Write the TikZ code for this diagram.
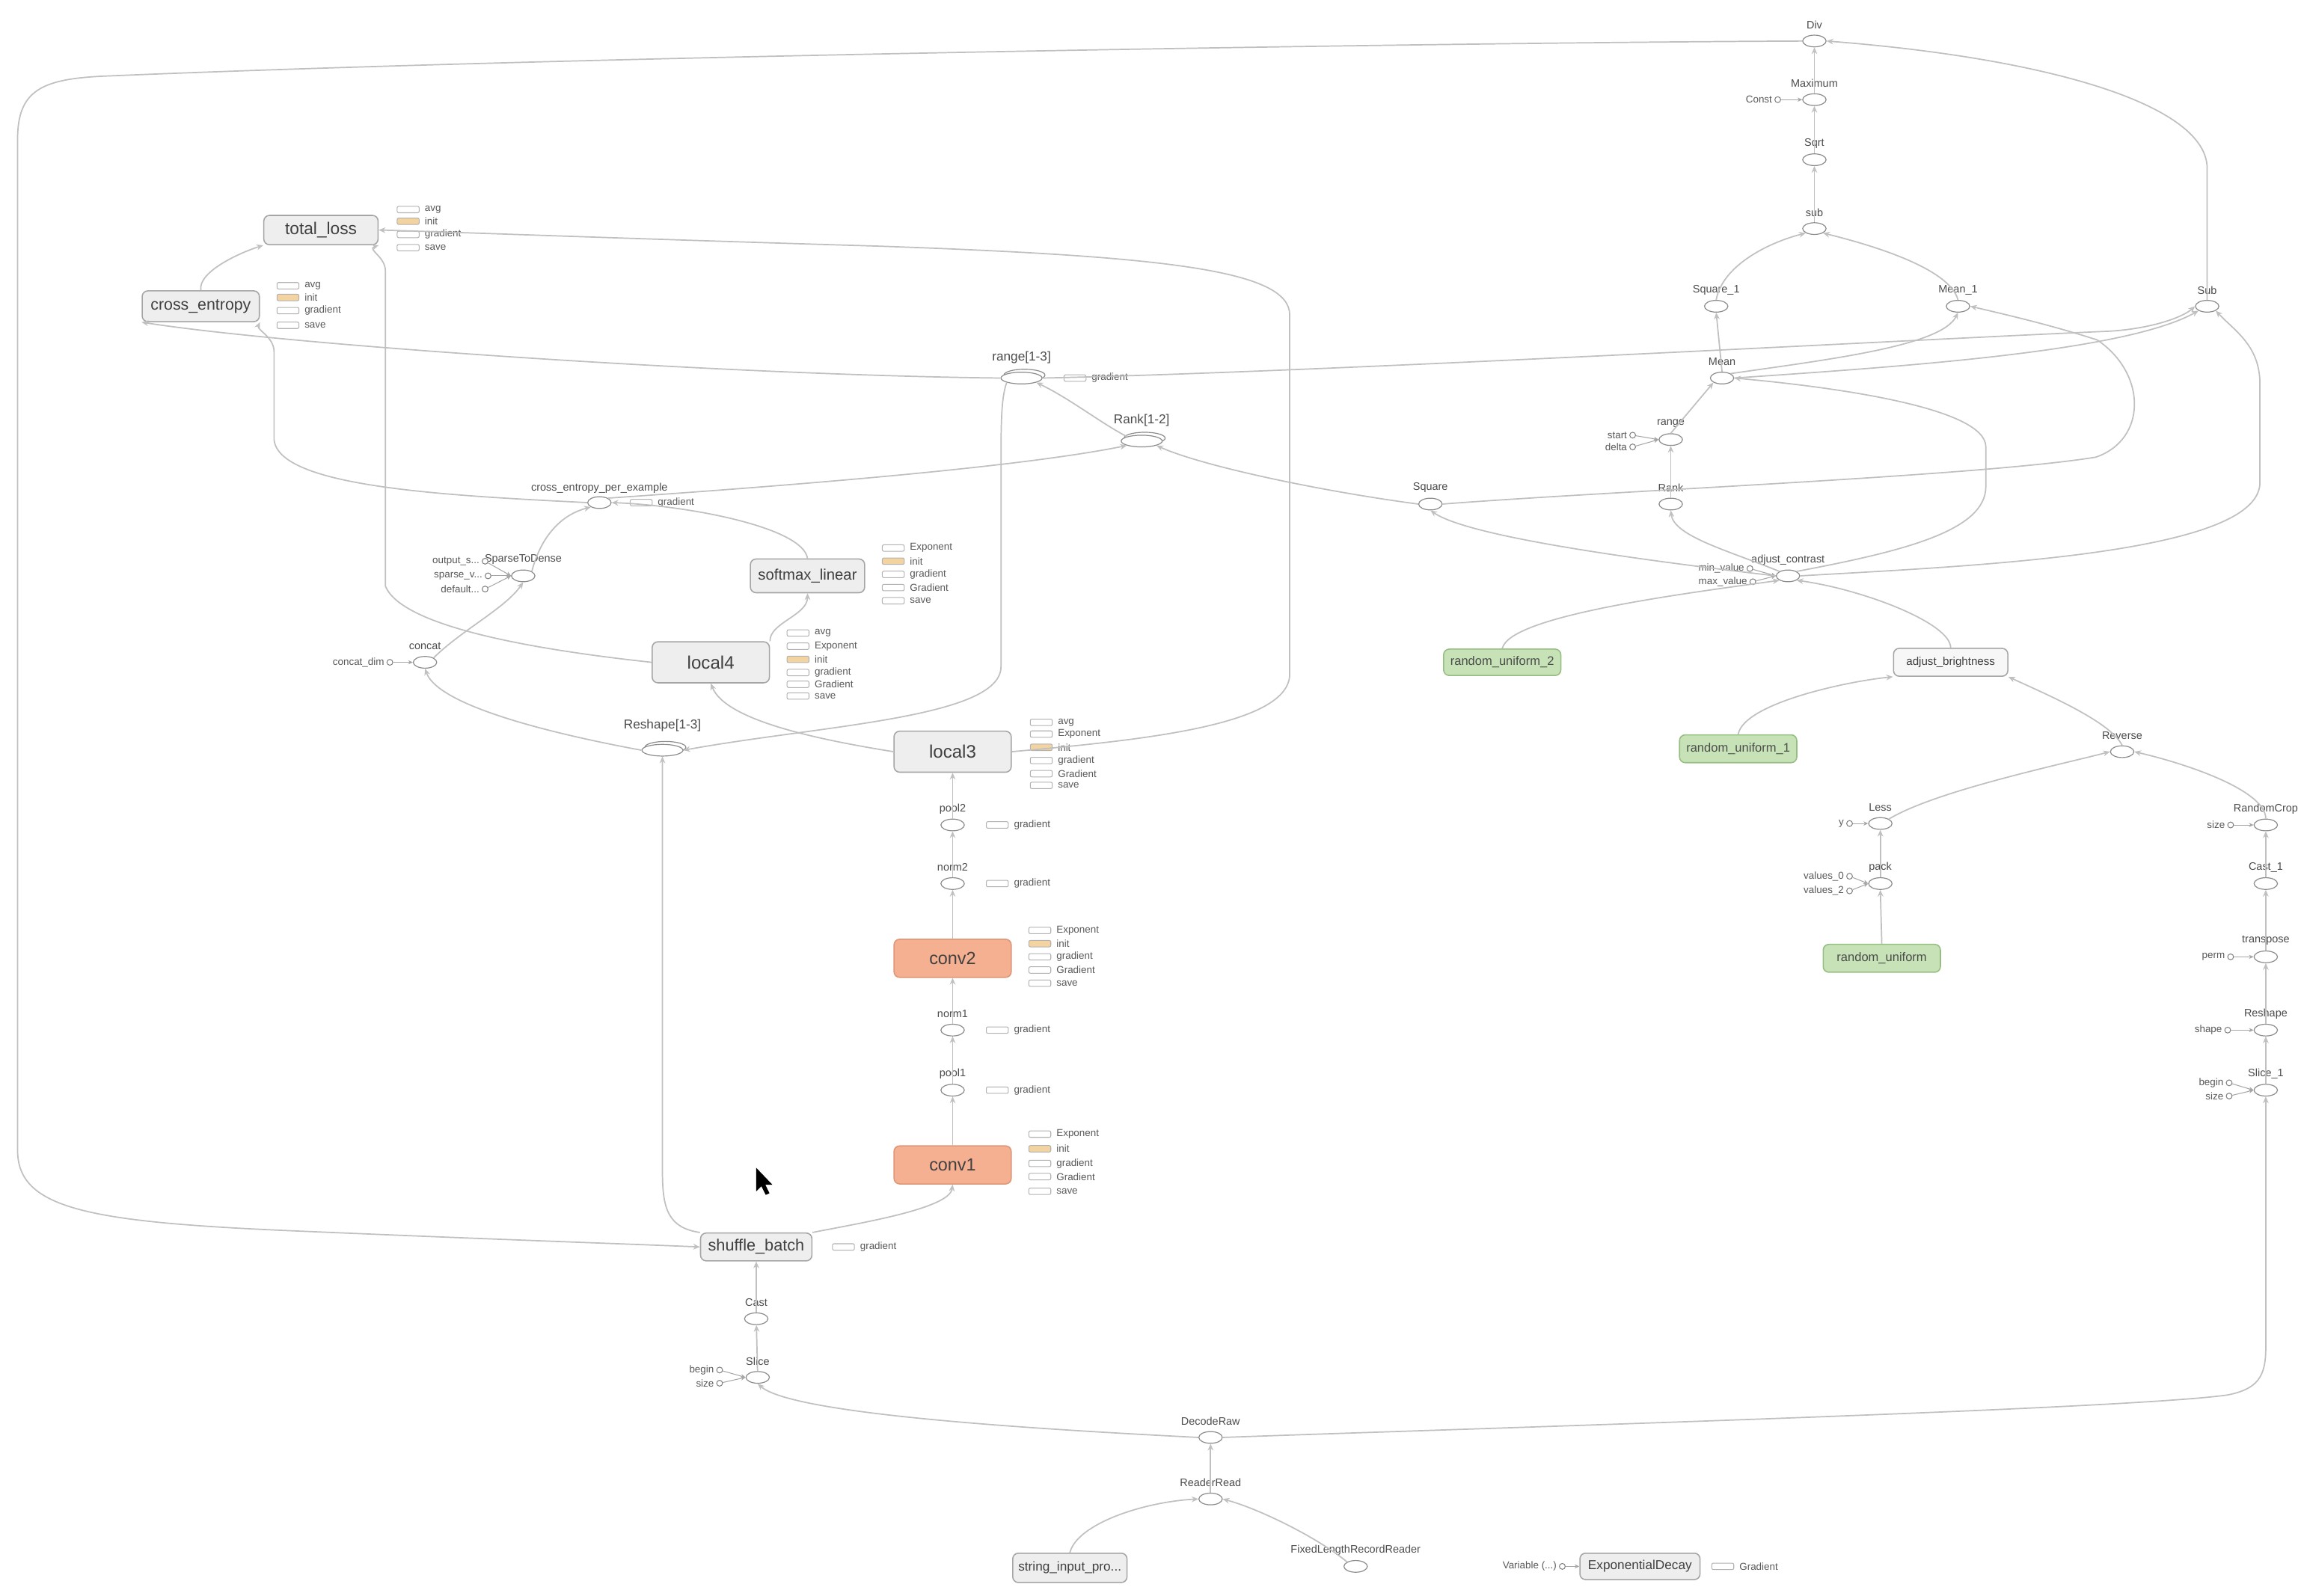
\documentclass[tikz,border=0pt]{standalone}
\usepackage{fontspec}
\setmainfont{Liberation Sans}
\usetikzlibrary{arrows.meta,shapes.geometric}
\definecolor{boxfill}{RGB}{238,238,238}
\definecolor{boxdraw}{RGB}{165,165,165}
\definecolor{convfill}{RGB}{244,176,145}
\definecolor{convdraw}{RGB}{222,150,120}
\definecolor{grfill}{RGB}{198,226,182}
\definecolor{grdraw}{RGB}{150,190,130}
\definecolor{initfill}{RGB}{243,212,160}
\definecolor{edgec}{RGB}{192,192,192}
\newcommand\FSmall{\fontsize{4.2}{4.6}\selectfont}
\newcommand\FAux{\fontsize{3.9}{4.3}\selectfont}
\newcommand\FS[1]{\fontsize{#1}{#1}\selectfont}
% op node with label above: name, x, y, text
\newcommand\opn[4]{\node[op] (#1) at (#2,#3) {};\node[lbl] (#1-l) at (#2,#3-11) {#4};}
% stacked op: name, x, y, text, label offset
\newcommand\stk[5]{\node[op,minimum width=0.56cm] (#1-b) at (#2+2,#3-2) {};\node[op,minimum width=0.56cm] (#1) at (#2,#3) {};\node[lblm] (#1-l) at (#2,#3-#5) {#4};}
% aux item: name, icon x, y, fill, text
\newcommand\aux[5]{\draw[draw=black!30,fill=#4,rounded corners=0.6pt,line width=0.3pt] (#2,#3-2.2) rectangle (#2+15,#3+2.2);\node[auxl] (#1) at (#2+18,#3) {#5};}
% constant input: name, x, y, text, target
\newcommand\cinp[5]{\node[cin] (#1) at (#2,#3) {};\node[auxl,anchor=east] (#1-t) at (#2-3,#3) {#4};\draw[ce] (#1) -- (#5);}
\begin{document}
\begin{tikzpicture}[x=0.02cm,y=-0.02cm,
  box/.style={draw=boxdraw, fill=boxfill, rounded corners=2.2pt, line width=0.45pt, inner sep=0pt, text=black!75},
  cbox/.style={box, draw=convdraw, fill=convfill},
  gbox/.style={box, draw=grdraw, fill=grfill, text=black!70},
  op/.style={ellipse, draw=black!45, fill=white, minimum width=0.32cm, minimum height=0.16cm, inner sep=0pt, line width=0.35pt},
  lbl/.style={font=\FSmall, text=black!70, inner sep=0.3pt},
  lblm/.style={font=\FS{5}, text=black!70, inner sep=0.3pt},
  auxl/.style={font=\FAux, text=black!65, inner sep=0.3pt, anchor=west},
  e/.style={draw=edgec, line width=0.5pt, -{Stealth[length=2.6pt,width=2.2pt]}},
  ce/.style={draw=black!35, line width=0.3pt, -{Stealth[length=1.8pt,width=1.6pt]}},
  cin/.style={circle, draw=black!50, fill=white, minimum size=0.08cm, inner sep=0pt, line width=0.3pt}]
\useasboundingbox (0,0) rectangle (1568,1089);
\fill[white] (0,0) rectangle (1568,1089);

% ---------------- main boxes ----------------
\node[box, minimum width=1.56cm, minimum height=0.40cm, font=\FS{6.6}] (totalloss) at (219,157) {total\_loss};
\node[box, minimum width=1.60cm, minimum height=0.42cm, font=\FS{6.2}] (crossent) at (137,209) {cross\_entropy};
\node[box, minimum width=1.56cm, minimum height=0.46cm, font=\FS{5.9}] (softmax) at (551,393) {softmax\_linear};
\node[box, minimum width=1.60cm, minimum height=0.56cm, font=\FS{7}] (local4) at (485,452) {local4};
\node[box, minimum width=1.60cm, minimum height=0.56cm, font=\FS{7}] (local3) at (650,513) {local3};
\node[cbox, minimum width=1.60cm, minimum height=0.52cm, font=\FS{6.8}] (conv2) at (650,654) {conv2};
\node[cbox, minimum width=1.60cm, minimum height=0.52cm, font=\FS{6.8}] (conv1) at (650,795) {conv1};
\node[box, minimum width=1.52cm, minimum height=0.38cm, font=\FS{6.3}] (shuffle) at (516,851) {shuffle\_batch};
\node[box, minimum width=1.56cm, minimum height=0.40cm, font=\FS{5}] (stringin) at (730,1070) {string\_input\_pro...};
\node[box, minimum width=1.64cm, minimum height=0.36cm, font=\FS{5}] (expdecay) at (1119,1069) {ExponentialDecay};
\node[box, fill=white!97!black, minimum width=1.56cm, minimum height=0.38cm, font=\FS{4.4}] (adjbright) at (1331,452) {adjust\_brightness};
\node[gbox, minimum width=1.60cm, minimum height=0.36cm, font=\FS{4.8}] (ru2) at (1025,452) {random\_uniform\_2};
\node[gbox, minimum width=1.60cm, minimum height=0.38cm, font=\FS{4.8}] (ru1) at (1186,511) {random\_uniform\_1};
\node[gbox, minimum width=1.60cm, minimum height=0.38cm, font=\FS{4.8}] (ru) at (1284,654) {random\_uniform};

% ---------------- op nodes ----------------
\opn{div}{1238}{28}{Div}
\opn{maximum}{1238}{68}{Maximum}
\opn{sqrt}{1238}{109}{Sqrt}
\opn{subl}{1238}{156}{sub}
\opn{square1}{1171}{209}{Square\_1}
\opn{mean1}{1336}{209}{Mean\_1}
\opn{subu}{1506}{209}{Sub}
\opn{mean}{1175}{258}{Mean}
\opn{range}{1140}{300}{range}
\opn{square}{976}{344}{Square}
\opn{rank}{1140}{344}{Rank}
\opn{adjcon}{1220}{393}{adjust\_contrast}
\opn{reverse}{1448}{513}{Reverse}
\opn{less}{1283}{562}{Less}
\opn{pack}{1283}{603}{pack}
\opn{randcrop}{1546}{563}{RandomCrop}
\opn{cast1}{1546}{603}{Cast\_1}
\opn{transpose}{1546}{653}{transpose}
\opn{reshape}{1546}{703}{Reshape}
\opn{slice1}{1546}{744}{Slice\_1}
\opn{std}{357}{393}{SparseToDense}
\opn{concat}{290}{452}{concat}
\opn{pool2}{650}{563}{pool2}
\opn{norm2}{650}{603}{norm2}
\opn{norm1}{650}{703}{norm1}
\opn{pool1}{650}{744}{pool1}
\opn{cast}{516}{900}{Cast}
\opn{slice}{517}{940}{Slice}
\opn{decoderaw}{826}{981}{DecodeRaw}
\opn{readerread}{826}{1023}{ReaderRead}
\opn{flrr}{925}{1069}{FixedLengthRecordReader}
\node[op] (xent) at (409,343) {};
\node[lbl, font=\FS{4.2}] (xent-l) at (409,333) {cross\_entropy\_per\_example};
\stk{range13}{697}{258}{range[1-3]}{14}
\stk{rank12}{779}{301}{Rank[1-2]}{14}
\stk{reshape13}{452}{512}{Reshape[1-3]}{17}

% ---------------- constant inputs ----------------
\cinp{cconst}{1213}{68}{Const}{maximum.west}
\cinp{cstart}{1114}{297}{start}{range.west}
\cinp{cdelta}{1114}{305}{delta}{range.west}
\cinp{cmin}{1194}{388}{min\_value}{adjcon.west}
\cinp{cmax}{1196}{397}{max\_value}{adjcon.west}
\cinp{cy}{1262}{562}{y}{less.west}
\cinp{cv0}{1262}{598}{values\_0}{pack.west}
\cinp{cv2}{1262}{608}{values\_2}{pack.west}
\cinp{csize}{1522}{563}{size}{randcrop.west}
\cinp{cperm}{1522}{653}{perm}{transpose.west}
\cinp{cshape}{1520}{703}{shape}{reshape.west}
\cinp{cbegin1}{1521}{739}{begin}{slice1.west}
\cinp{csize1}{1521}{748}{size}{slice1.west}
\cinp{cbegin}{491}{935}{begin}{slice.west}
\cinp{csize0}{491}{944}{size}{slice.west}
\cinp{cdim}{266}{452}{concat\_dim}{concat.west}
\cinp{cout}{331}{383}{output\_s...}{std.west}
\cinp{csp}{333}{393}{sparse\_v...}{std.west}
\cinp{cdef}{331}{402}{default...}{std.west}
\cinp{cvar}{1066}{1069}{Variable (...)}{expdecay.west}

% ---------------- auxiliary items ----------------
\aux{tl1}{271}{143}{white}{avg}
\aux{tl2}{271}{151}{initfill}{init}
\aux{tl3}{271}{160}{white}{gradient}
\aux{tl4}{271}{169}{white}{save}
\aux{ce1}{189}{195}{white}{avg}
\aux{ce2}{189}{203}{initfill}{init}
\aux{ce3}{189}{212}{white}{gradient}
\aux{ce4}{189}{222}{white}{save}
\aux{sm1}{602}{374}{white}{Exponent}
\aux{sm2}{602}{383}{initfill}{init}
\aux{sm3}{602}{392}{white}{gradient}
\aux{sm4}{602}{401}{white}{Gradient}
\aux{sm5}{602}{410}{white}{save}
\aux{l41}{537}{432}{white}{avg}
\aux{l42}{537}{441}{white}{Exponent}
\aux{l43}{537}{450}{initfill}{init}
\aux{l44}{537}{459}{white}{gradient}
\aux{l45}{537}{467}{white}{Gradient}
\aux{l46}{537}{475}{white}{save}
\aux{l31}{703}{493}{white}{avg}
\aux{l32}{703}{501}{white}{Exponent}
\aux{l33}{703}{510}{initfill}{init}
\aux{l34}{703}{519}{white}{gradient}
\aux{l35}{703}{528}{white}{Gradient}
\aux{l36}{703}{536}{white}{save}
\aux{c21}{702}{635}{white}{Exponent}
\aux{c22}{702}{644}{initfill}{init}
\aux{c23}{702}{653}{white}{gradient}
\aux{c24}{702}{662}{white}{Gradient}
\aux{c25}{702}{671}{white}{save}
\aux{c11}{702}{774}{white}{Exponent}
\aux{c12}{702}{784}{initfill}{init}
\aux{c13}{702}{794}{white}{gradient}
\aux{c14}{702}{803}{white}{Gradient}
\aux{c15}{702}{813}{white}{save}
\aux{p2g}{673}{563}{white}{gradient}
\aux{n2g}{673}{603}{white}{gradient}
\aux{n1g}{673}{703}{white}{gradient}
\aux{p1g}{673}{744}{white}{gradient}
\aux{sbg}{568}{851}{white}{gradient}
\aux{r13g}{726}{258}{white}{gradient}
\aux{xeg}{430}{343}{white}{gradient}
\aux{edg}{1168}{1069}{white}{Gradient}

% ---------------- edges: right top ----------------
\draw[e] (maximum) -- (div);
\draw[e] (sqrt) -- (maximum);
\draw[e] (subl) -- (sqrt);
\draw[e] (square1.north) .. controls (1175,182) and (1205,166) .. (subl.south west);
\draw[e] (mean1.north) .. controls (1330,182) and (1272,166) .. (subl.south east);
\draw[e] (subu.north) -- (1506,115) .. controls (1506,72) and (1400,40) .. (div.east);
\draw[e] (div.west) .. controls (1000,29) and (400,38) .. (70,52) .. controls (28,54) and (12,62) .. (12,95) -- (12,785) .. controls (12,825) and (60,834) .. (200,840) .. controls (340,846) and (430,849) .. (shuffle.west);
\draw[e] (mean.north) -- (square1.south);
\draw[e] (mean.north east) .. controls (1250,245) and (1325,236) .. (mean1.south);
\draw[e] (mean.east) .. controls (1300,250) and (1450,240) .. (subu.south west);
\draw[e] (range13.east) .. controls (900,254) and (1300,232) .. (1440,226) .. controls (1470,224) and (1490,216) .. (subu.west);
\draw[e] (square.east) .. controls (1100,335) and (1350,325) .. (1430,312) .. controls (1465,300) and (1465,255) .. (1431,232) .. controls (1400,222) and (1370,215) .. (mean1.east);
\draw[e] (range.north) -- (mean.south west);
\draw[e] (rank.north) -- (range.south);
\draw[e] (adjcon.west) .. controls (1100,380) and (1000,365) .. (square.south);
\draw[e] (adjcon.north west) .. controls (1180,376) and (1142,366) .. (rank.south);
\draw[e] (adjcon.north east) .. controls (1300,376) and (1355,362) .. (1355,332) -- (1355,305) .. controls (1355,278) and (1250,264) .. (mean.east);
\draw[e] (adjcon.east) .. controls (1350,386) and (1540,378) .. (1542,330) -- (1542,262) .. controls (1542,236) and (1525,226) .. (subu.south east);
\draw[e] (square.west) .. controls (900,335) and (820,318) .. (rank12.south east);

% ---------------- edges: image pipeline ----------------
\draw[e] (adjbright.north) .. controls (1331,425) and (1270,402) .. (adjcon.south east);
\draw[e] (ru2.north) .. controls (1030,420) and (1150,405) .. (adjcon.south west);
\draw[e] (ru1.north) .. controls (1190,480) and (1260,465) .. (adjbright.south west);
\draw[e] (reverse.north) .. controls (1440,492) and (1392,472) .. (adjbright.south east);
\draw[e] (less.north east) .. controls (1320,540) and (1405,522) .. (reverse.west);
\draw[e] (randcrop.north) .. controls (1546,540) and (1495,522) .. (reverse.east);
\draw[e] (pack) -- (less);
\draw[e] (ru.north) -- (pack.south);
\draw[e] (cast1) -- (randcrop);
\draw[e] (transpose) -- (cast1);
\draw[e] (reshape) -- (transpose);
\draw[e] (slice1) -- (reshape);
\draw[e] (decoderaw.east) .. controls (1000,975) and (1450,962) .. (1520,952) .. controls (1540,948) and (1546,940) .. (1546,920) -- (slice1.south);
\draw[e] (readerread) -- (decoderaw);
\draw[e] (stringin.north) .. controls (735,1040) and (780,1025) .. (readerread.west);
\draw[e] (flrr.north west) .. controls (900,1050) and (860,1030) .. (readerread.east);
\draw[e] (decoderaw.west) .. controls (700,975) and (540,965) .. (slice.south);
\draw[e] (slice) -- (cast);
\draw[e] (cast) -- (shuffle);

% ---------------- edges: model ----------------
\draw[e] (shuffle.north east) .. controls (585,835) and (648,825) .. (conv1.south);
\draw[e] (conv1) -- (pool1);
\draw[e] (pool1) -- (norm1);
\draw[e] (norm1) -- (conv2);
\draw[e] (conv2) -- (norm2);
\draw[e] (norm2) -- (pool2);
\draw[e] (pool2) -- (local3);
\draw[e] (local3.west) .. controls (560,505) and (495,492) .. (local4.south);
\draw[e] (local4.north east) .. controls (525,425) and (551,420) .. (softmax.south);
\draw[e] (softmax.north) .. controls (548,360) and (470,345) .. (xent.east);
\draw[e] (std.north east) .. controls (368,370) and (380,352) .. (xent.south west);
\draw[e] (concat.north east) .. controls (315,430) and (345,415) .. (std.south);
\draw[e] (reshape13.west) .. controls (400,505) and (300,485) .. (concat.south);
\draw[e] (shuffle.north west) .. controls (456,838) and (452,825) .. (452,800) -- (reshape13.south);
\draw[e] (range13.south west) .. controls (683,272) and (683,290) .. (683,320) -- (683,455) .. controls (683,490) and (560,495) .. (reshape13.east);
\draw[e] (rank12.north west) .. controls (750,288) and (730,272) .. (range13.south east);
\draw[e] (xent.north east) .. controls (560,330) and (700,318) .. (rank12.south west);
\draw[e] (range13.west) .. controls (500,256) and (200,236) .. (crossent.south west);
\draw[e] (xent.west) .. controls (300,338) and (190,332) .. (187,300) -- (187,240) .. controls (187,230) and (175,225) .. (crossent.south east);
\draw[e] (crossent.north) .. controls (135,185) and (165,172) .. (totalloss.south west);
\draw[e] (local4.west) .. controls (380,445) and (275,430) .. (263,400) -- (263,185) .. controls (263,175) and (250,170) .. (totalloss.south east);
\draw[e] (local3.east) .. controls (780,505) and (880,495) .. (880,460) -- (880,215) .. controls (880,185) and (800,175) .. (600,168) .. controls (400,162) and (300,158) .. (totalloss.east);

% ---------------- mouse cursor ----------------
\fill[black] (516,797) -- (516,813) -- (519.5,809.5) -- (522.5,815.5) -- (525,814.3) -- (522.2,808.5) -- (527,808.5) -- cycle;
\end{tikzpicture}
\end{document}
